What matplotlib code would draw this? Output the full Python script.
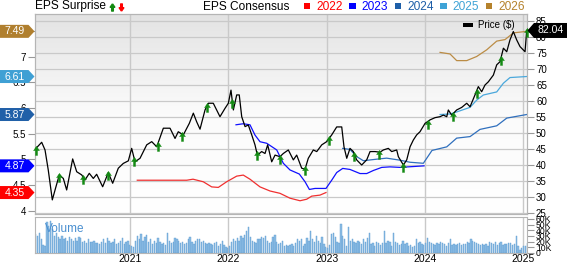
import matplotlib.pyplot as plt
import numpy as np
from matplotlib.path import Path
from matplotlib.patches import Polygon, Rectangle
from matplotlib.colors import LinearSegmentedColormap

plt.rcParams['font.family'] = ['Liberation Sans', 'DejaVu Sans']

# ---- data (time in decimal years) ----
price_t = [2020.044, 2020.102, 2020.136, 2020.169, 2020.210, 2020.247, 2020.281, 2020.322, 2020.356, 2020.417, 2020.458,
           2020.509, 2020.542, 2020.586, 2020.627, 2020.661, 2020.722, 2020.779, 2020.824, 2020.881, 2020.932, 2020.983,
           2021.017, 2021.051, 2021.102, 2021.170, 2021.221, 2021.272, 2021.339, 2021.407, 2021.458, 2021.491, 2021.542,
           2021.603, 2021.644, 2021.678, 2021.712, 2021.763, 2021.796, 2021.847, 2021.881, 2021.915, 2021.966,
           2022.000, 2022.027, 2022.051, 2022.085, 2022.111, 2022.136, 2022.170, 2022.203, 2022.238, 2022.271, 2022.295,
           2022.339, 2022.373, 2022.400, 2022.441, 2022.475, 2022.525, 2022.559, 2022.610, 2022.661, 2022.695, 2022.746,
           2022.780, 2022.813, 2022.864, 2022.899, 2022.950,
           2023.000, 2023.051, 2023.102, 2023.153, 2023.176, 2023.204, 2023.237, 2023.271, 2023.305, 2023.356, 2023.407,
           2023.441, 2023.492, 2023.542, 2023.576, 2023.627, 2023.661, 2023.712, 2023.729, 2023.780, 2023.814, 2023.848,
           2023.881, 2023.915, 2023.949,
           2024.000, 2024.051, 2024.102, 2024.153, 2024.186, 2024.221, 2024.237, 2024.271, 2024.322, 2024.373, 2024.424,
           2024.458, 2024.508, 2024.542, 2024.576, 2024.610, 2024.644, 2024.695, 2024.729, 2024.763, 2024.797, 2024.831,
           2024.864, 2024.898, 2024.932, 2024.966, 2025.017, 2025.034]
price_v = [45.2, 47.1, 44.7, 38.4, 29.1, 33.2, 36.9, 35.8, 32.2, 41.9, 37.9,
           36.9, 35.3, 37.4, 35.8, 37.1, 33.2, 37.6, 34.3, 39.0, 40.5, 41.3,
           45.2, 41.0, 42.1, 46.3, 47.3, 45.7, 51.5, 51.5, 48.3, 50.4, 49.4,
           53.0, 56.2, 53.5, 51.2, 57.2, 59.3, 59.3, 57.2, 55.1, 57.7,
           59.3, 63.4, 57.2, 61.9, 61.9, 55.1, 52.0, 52.5, 49.4, 46.3, 43.1,
           44.2, 43.6, 46.3, 41.0, 43.1, 42.6, 43.6, 44.7, 41.6, 43.1, 39.0,
           38.7, 42.1, 44.7, 44.2, 46.3,
           47.3, 49.4, 51.9, 51.9, 45.7, 42.1, 45.2, 44.2, 41.6, 40.0, 41.6,
           44.2, 44.2, 44.0, 44.7, 45.2, 44.2, 44.7, 42.6, 40.0, 41.6, 45.7,
           47.8, 49.4, 50.4,
           53.0, 54.1, 54.8, 55.1, 55.6, 55.1, 57.2, 55.6, 57.2, 58.0, 59.3,
           58.2, 61.9, 64.5, 62.9, 65.0, 66.0, 68.1, 71.3, 72.3, 76.5, 75.4,
           79.1, 81.7, 79.1, 77.0, 75.4, 82.04]

eps22_t = [2021.074, 2021.577, 2021.641, 2021.745, 2021.831, 2021.898, 2021.983, 2022.085, 2022.152, 2022.220,
           2022.322, 2022.424, 2022.525, 2022.627, 2022.729, 2022.797, 2022.848, 2022.932, 2022.993]
eps22_v = [4.59, 4.59, 4.61, 4.56, 4.46, 4.45, 4.56, 4.67, 4.69, 4.61,
           4.46, 4.38, 4.335, 4.24, 4.19, 4.22, 4.28, 4.30, 4.35]
eps23_t = [2022.078, 2022.152, 2022.220, 2022.271, 2022.322, 2022.390, 2022.492, 2022.559, 2022.627, 2022.722,
           2022.780, 2022.824, 2022.881, 2022.993, 2023.051, 2023.102, 2023.163, 2023.237, 2023.339, 2023.407,
           2023.475, 2023.560, 2023.644, 2023.746, 2023.990]
eps23_v = [5.67, 5.69, 5.67, 5.47, 5.34, 5.31, 5.18, 4.92, 4.79, 4.71,
           4.56, 4.41, 4.43, 4.43, 4.59, 4.74, 4.82, 4.80, 4.72, 4.72,
           4.78, 4.84, 4.85, 4.84, 4.87]
eps24_t = [2023.163, 2023.237, 2023.305, 2023.373, 2023.509, 2023.610, 2023.746, 2023.848, 2023.983, 2024.071,
           2024.221, 2024.322, 2024.458, 2024.559, 2024.729, 2024.831, 2025.034]
eps24_v = [5.21, 5.19, 5.05, 4.97, 5.00, 5.02, 4.98, 4.94, 4.92, 5.17,
           5.24, 5.41, 5.44, 5.58, 5.65, 5.80, 5.87]
eps25_t = [2024.153, 2024.254, 2024.322, 2024.458, 2024.525, 2024.593, 2024.729, 2024.797, 2024.864, 2025.034]
eps25_v = [5.87, 5.88, 5.92, 6.01, 6.15, 6.25, 6.31, 6.48, 6.59, 6.61]
eps26_t = [2024.153, 2024.254, 2024.322, 2024.424, 2024.525, 2024.627, 2024.729, 2024.814, 2024.898, 2025.034]
eps26_v = [7.08, 7.05, 6.92, 6.92, 7.00, 7.13, 7.30, 7.33, 7.46, 7.49]

surprise_t = [2020.044, 2020.281, 2020.525, 2020.779, 2021.044, 2021.282, 2021.529, 2021.788, 2022.040, 2022.289,
              2022.525, 2022.783, 2023.027, 2023.281, 2023.535, 2023.779, 2024.027, 2024.282, 2024.526, 2024.773,
              2025.034]

# weekly volume, thousands
vol_2020 = [33, 30, 35, 24, 14, 12, 55, 48, 56, 42, 30, 36, 28, 25, 30, 24, 26, 22, 28, 25, 21, 26, 22, 28, 26, 20,
            22, 18, 24, 20, 19, 22, 17, 18, 16, 20, 24, 18, 26, 22, 17, 20, 24, 15, 18, 22, 26, 16, 20, 21, 14, 12]
vol_2021 = [10, 22, 30, 25, 34, 22, 28, 32, 20, 24, 15, 22, 18, 26, 20, 16, 18, 14, 36, 22, 18, 20, 26, 24, 22, 18,
            20, 16, 18, 24, 28, 20, 16, 22, 25, 24, 20, 22, 18, 15, 17, 16, 14, 18, 20, 12, 16, 22, 14, 10, 8, 13]
vol_2022 = [20, 24, 22, 26, 22, 30, 26, 32, 38, 45, 28, 22, 20, 18, 25, 24, 28, 26, 30, 22, 18, 20, 28, 32, 20, 16,
            18, 22, 12, 14, 12, 14, 15, 13, 18, 24, 22, 25, 12, 15, 26, 22, 38, 24, 20, 30, 22, 18, 28, 15, 10, 8]
vol_2023 = [14, 34, 36, 28, 20, 18, 52, 30, 25, 12, 46, 22, 24, 20, 18, 22, 20, 15, 24, 20, 26, 36, 16, 18, 12, 20,
            18, 14, 18, 38, 18, 22, 20, 12, 36, 20, 18, 14, 16, 22, 16, 18, 12, 14, 10, 13, 24, 18, 20, 16, 14, 18]
vol_2024 = [26, 20, 18, 16, 14, 18, 16, 20, 17, 15, 13, 18, 24, 14, 15, 14, 16, 18, 14, 15, 16, 20, 17, 25, 22, 20,
            18, 16, 14, 15, 14, 16, 13, 20, 18, 16, 20, 14, 18, 20, 14, 16, 15, 17, 18, 14, 16, 30, 12, 6, 8, 12]
vol_2025 = [13, 18]

eps_final = [7.49, 6.61, 5.87, 4.87, 4.35]
flag_colors = ['#b07f2e', '#3fa0d4', '#2160a8', '#0000ff', '#ff0000']
years = [2021, 2022, 2023, 2024, 2025]
legend_years = ['2022', '2023', '2024', '2025', '2026']
legend_colors = ['#ff0000', '#0000ff', '#1e5fa8', '#3ea3d6', '#b5822c']
last_price = price_v[-1]

# ---- layout (pixels) ----
W, H = 568, 264
fig = plt.figure(figsize=(W / 100, H / 100), dpi=100)


def box(x0, y0, x1, y1):
    return [x0 / W, 1 - y1 / H, (x1 - x0) / W, (y1 - y0) / H]


ax = fig.add_axes(box(35, 14, 527, 214))
axp = ax.twinx()
axv = fig.add_axes(box(35, 217, 527, 253))
ov = fig.add_axes([0, 0, 1, 1])
ov.set_xlim(0, W)
ov.set_ylim(H, 0)
ov.axis('off')

x_lo, x_hi = 2020.034, 2025.037
e_lo, e_hi = 3.932, 7.828
p_lo, p_hi = 24.69, 87.19
grid_c = '#c9c9c9'
spine_c = '#b5b5b5'

# background gradient
cm = LinearSegmentedColormap.from_list('bg', ['#ffffff', '#fbfbfb', '#e3e3e3'])
ax.imshow(np.linspace(0, 1, 256).reshape(-1, 1), cmap=cm, origin='lower', extent=[0, 1, 0, 1],
          transform=ax.transAxes, aspect='auto', zorder=0)

# horizontal grid at price levels, drawn on the EPS axes so it stays below the lines
for p in range(25, 90, 5):
    ax.axhline(e_lo + (p - p_lo) * (e_hi - e_lo) / (p_hi - p_lo), color=grid_c, lw=0.9, zorder=0.5)
for yr in years:
    ax.axvline(yr, color=grid_c, lw=1.0, zorder=0.5)
    axv.axvline(yr, color=grid_c, lw=1.0, zorder=0)

# EPS consensus lines
ax.plot(eps22_t, eps22_v, color='#f03030', lw=0.9, zorder=2)
ax.plot(eps23_t, eps23_v, color='#1010ff', lw=0.9, zorder=2)
ax.plot(eps24_t, eps24_v, color='#2f6fbd', lw=0.9, zorder=2)
ax.plot(eps25_t, eps25_v, color='#4aa8dc', lw=0.9, zorder=2)
ax.plot(eps26_t, eps26_v, color='#bb8c45', lw=0.9, zorder=2)

# price
axp.plot(price_t, price_v, color='black', lw=0.9, zorder=3)

up = Path([(0, 0.3), (-0.42, -0.3), (-0.15, -0.3), (-0.15, -1), (0.15, -1), (0.15, -0.3), (0.42, -0.3), (0, 0.3)])
down = Path([(0, -0.3), (-0.42, 0.3), (-0.15, 0.3), (-0.15, 1), (0.15, 1), (0.15, 0.3), (0.42, 0.3), (0, -0.3)])
surprise_p = np.interp(surprise_t, price_t, price_v)
axp.plot(surprise_t, surprise_p, ls='none', marker=up, ms=10, mfc='#138a13', mec='#138a13', mew=0.3,
         zorder=5, clip_on=False)

ax.set_xlim(x_lo, x_hi)
ax.set_ylim(e_lo, e_hi)
axp.set_ylim(p_lo, p_hi)

ax.set_yticks(np.arange(4, 7.6, 0.5))
ax.set_yticklabels(['{:g}'.format(v) for v in np.arange(4, 7.6, 0.5)])
ax.set_xticks(years)
ax.tick_params(axis='x', length=0, labelbottom=False)
ax.tick_params(axis='y', length=5, width=0.8, color='#999999', labelsize=7, pad=1.5)
axp.set_yticks(range(25, 90, 5))
axp.tick_params(axis='y', length=5, width=0.8, color='#999999', labelsize=7, pad=1.5)
for a in (ax, axp, axv):
    for s in a.spines.values():
        s.set_color(spine_c)
        s.set_linewidth(0.8)

# volume
vol = vol_2020 + vol_2021 + vol_2022 + vol_2023 + vol_2024 + vol_2025
vol_t = 2020.04 + np.arange(len(vol)) / 52.18
axv.bar(vol_t, vol, width=0.0135, color='#8dbde4', edgecolor='#5d9cd3', lw=0.3, zorder=2)
axv.set_xlim(x_lo, x_hi)
axv.set_ylim(0, 63.5)
axv.yaxis.tick_right()
axv.set_yticks(range(0, 61, 10))
axv.set_yticklabels(['0'] + ['{}K'.format(v) for v in range(10, 61, 10)])
axv.tick_params(axis='y', length=5, width=0.8, color='#999999', labelsize=6.2, pad=1.5)
axv.set_xticks(years)
axv.set_xticklabels([str(y) for y in years])
axv.tick_params(axis='x', length=0, labelsize=7.5, pad=1)
axv.text(0.02, 0.66, 'Volume', transform=axv.transAxes, color='#4a8fd0', fontsize=8.5, va='center', zorder=3)

# value flags on the left (EPS) and right (price)
for val, col in zip(eps_final, flag_colors):
    yp = H - ax.transData.transform((2022, val))[1]
    ov.add_patch(Polygon([(0, yp - 6.5), (28.5, yp - 6.5), (34.5, yp), (28.5, yp + 6.5), (0, yp + 6.5)],
                         closed=True, fc=col, ec='none'))
    ov.text(14.5, yp, '{:.2f}'.format(val), color='white', ha='center', va='center', fontsize=7.5)

yp = H - axp.transData.transform((2022, last_price))[1]
ov.add_patch(Polygon([(527.5, yp), (534, yp - 7.5), (567, yp - 7.5), (567, yp + 7.5), (534, yp + 7.5)],
                     closed=True, fc='black', ec='none'))
ov.text(551, yp, '{:.2f}'.format(last_price), color='white', ha='center', va='center', fontsize=7.5)

# header
ov.text(35, 6.5, 'EPS Surprise', fontsize=8.6, ha='left', va='center')
ov.plot([111.5], [4.7], ls='none', marker=up, ms=8, color='#138a13')
ov.plot([120.5], [8.6], ls='none', marker=down, ms=8, color='#ff0000')
ov.text(203, 6.5, 'EPS Consensus', fontsize=8.6, ha='left', va='center')
for i, (lab, col) in enumerate(zip(legend_years, legend_colors)):
    sx = 303.5 + 45.6 * i
    ov.add_patch(Rectangle((sx, 2.8), 6.5, 6.2, fc=col, ec='none'))
    ov.text(sx + 12.5, 6.5, lab, color=col, fontsize=8.6, ha='left', va='center')

ov.add_patch(Rectangle((463, 22.5), 10, 4.5, fc='black', ec='none'))
ov.text(478, 25, 'Price ($)', fontsize=7, ha='left', va='center')

fig.savefig('out.png', dpi=100)
